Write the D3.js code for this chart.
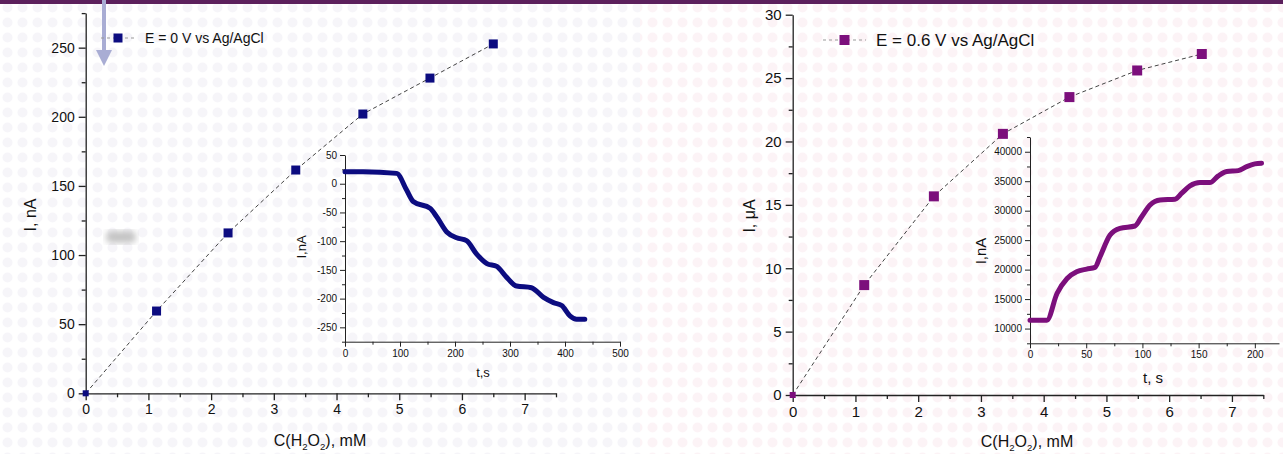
<!DOCTYPE html>
<html>
<head>
<meta charset="utf-8">
<script src="https://cdn.jsdelivr.net/npm/d3@7"></script>
<style>
  html, body { margin: 0; padding: 0; background: #fff; }
  svg { display: block; font-family: Arial, "Liberation Sans", sans-serif; }
  .axis path, .axis line { stroke: #222; }
  .axis text { fill: #111; }
</style>
</head>
<body>
<div id="chart"></div>
<script>
(function(d3) {
  'use strict';

  // main chart, E = 0 V
  var conc0 = [0, 1.13, 2.27, 3.35, 4.42, 5.49, 6.5];
  var curr0 = [0, 59.5, 116, 161.5, 202, 228, 252.7];

  // inset, E = 0 V (t, s / I, nA)
  var t0 = [0, 33, 94, 112, 124, 155, 167, 185, 203, 221, 239, 258, 276, 294, 312, 339, 361, 379, 394, 409, 421, 436];
  var i0 = [21, 21, 18, -11, -31, -43, -58, -84, -94, -99, -122, -139, -144, -163, -178, -181, -198, -207, -212, -230, -236, -236];

  // main chart, E = 0.6 V
  var conc6 = [0, 1.14, 2.25, 3.35, 4.41, 5.49, 6.52];
  var curr6 = [0, 8.67, 15.67, 20.6, 23.5, 25.6, 26.9];

  // inset, E = 0.6 V (t, s / I, nA)
  var t6 = [0, 15, 24, 33, 41.5, 50.4, 57.8, 62.3, 71.2, 80, 93.4, 99.3, 106.8, 115.7, 129, 135, 142.3, 151.2, 160, 167.5, 175, 185.3, 192.8, 200, 206];
  var i6 = [11400, 11400, 15950, 18500, 19630, 20090, 20370, 22180, 25870, 27000, 27400, 28980, 30970, 31820, 31940, 32960, 34200, 34760, 34760, 35900, 36640, 36800, 37480, 37940, 38060];

  var width = 1283, height = 454;

  var svg = d3.select('#chart').append('svg')
    .attr('width', width).attr('height', height);

  var defs = svg.append('defs');
  var patL = defs.append('pattern').attr('id', 'dotsL')
    .attr('width', 15).attr('height', 15).attr('patternUnits', 'userSpaceOnUse');
  patL.append('circle').attr('cx', 7.5).attr('cy', 7.5).attr('r', 5).attr('fill', '#f6f5f9');
  var patR = defs.append('pattern').attr('id', 'dotsR')
    .attr('width', 15).attr('height', 15).attr('patternUnits', 'userSpaceOnUse');
  patR.append('circle').attr('cx', 7.5).attr('cy', 7.5).attr('r', 5).attr('fill', '#fcf3f6');
  defs.append('filter').attr('id', 'blur')
    .append('feGaussianBlur').attr('stdDeviation', 3);

  svg.append('rect').attr('width', 640).attr('height', height).attr('fill', 'url(#dotsL)');
  svg.append('rect').attr('x', 640).attr('width', 643).attr('height', height).attr('fill', 'url(#dotsR)');

  // top bar
  svg.append('rect').attr('width', width).attr('height', 4).attr('fill', '#5b1f5c');

  // blurred smudge and arrow in the original slide
  svg.append('rect').attr('x', 106).attr('y', 231).attr('width', 30).attr('height', 12)
    .attr('rx', 5).attr('fill', '#c4c4c4').attr('filter', 'url(#blur)');
  svg.append('line').attr('x1', 104).attr('x2', 104).attr('y1', 0).attr('y2', 52)
    .attr('stroke', '#a9add4').attr('stroke-width', 4);
  svg.append('path').attr('d', 'M96,50 L112,50 L104,66 Z').attr('fill', '#a9add4');

  function zip(a, b) { return a.map(function(v, k) { return [v, b[k]]; }); }
  var plain = function(d) { return String(d); };

  function drawAxes(g, x, y, opt) {
    // minor ticks first
    g.append('g').attr('class', 'axis')
      .attr('transform', 'translate(0,' + y.range()[0] + ')')
      .call(d3.axisBottom(x).tickValues(opt.xMinor).tickSize(opt.minor).tickFormat(''))
      .select('.domain').remove();
    g.append('g').attr('class', 'axis')
      .attr('transform', 'translate(' + x.range()[0] + ',0)')
      .call(d3.axisLeft(y).tickValues(opt.yMinor).tickSize(opt.minor).tickFormat(''))
      .select('.domain').remove();

    var xa = g.append('g').attr('class', 'axis')
      .attr('transform', 'translate(0,' + y.range()[0] + ')')
      .call(d3.axisBottom(x).tickValues(opt.xTicks).tickFormat(plain)
        .tickSize(opt.major).tickSizeOuter(0).tickPadding(opt.pad));
    var ya = g.append('g').attr('class', 'axis')
      .attr('transform', 'translate(' + x.range()[0] + ',0)')
      .call(d3.axisLeft(y).tickValues(opt.yTicks).tickFormat(plain)
        .tickSize(opt.major).tickSizeOuter(0).tickPadding(opt.pad));
    [xa, ya].forEach(function(a) {
      a.selectAll('text').style('font-size', opt.font + 'px');
      a.select('.domain').attr('stroke-width', opt.sw);
    });
    g.selectAll('.axis line').attr('stroke-width', opt.sw);
  }

  function xTitle(g, cx, y, size) {
    var t = g.append('text').attr('x', cx).attr('y', y)
      .attr('text-anchor', 'middle').style('font-size', size + 'px').attr('fill', '#111');
    t.append('tspan').text('C(H');
    t.append('tspan').text('2').attr('dy', 4).style('font-size', (size * 0.6) + 'px');
    t.append('tspan').text('O').attr('dy', -4);
    t.append('tspan').text('2').attr('dy', 4).style('font-size', (size * 0.6) + 'px');
    t.append('tspan').text('), mM').attr('dy', -4);
  }

  function yTitle(g, x, cy, size, txt) {
    g.append('text').attr('transform', 'translate(' + x + ',' + cy + ') rotate(-90)')
      .attr('text-anchor', 'middle').attr('dy', '0.35em')
      .style('font-size', size + 'px').attr('fill', '#111').text(txt);
  }

  function mainPlot(opt) {
    var g = svg.append('g');
    var x = d3.scaleLinear().domain([0, 7.5]).range(opt.xr);
    var y = d3.scaleLinear().domain(opt.yd).range(opt.yr);

    drawAxes(g, x, y, {
      xTicks: d3.range(0, 8, 1), xMinor: d3.range(0.5, 7.6, 1),
      yTicks: opt.yTicks, yMinor: opt.yMinor,
      major: 7, minor: 4, pad: 4, font: opt.font, sw: 1.3
    });

    var line = d3.line().x(function(d) { return x(d[0]); }).y(function(d) { return y(d[1]); });
    var pts = zip(opt.xs, opt.ys);
    g.append('path').datum(pts).attr('d', line)
      .attr('fill', 'none').attr('stroke', '#444').attr('stroke-width', 1)
      .attr('stroke-dasharray', '4,3');
    g.selectAll('rect.pt').data(pts).enter().append('rect')
      .attr('class', 'pt')
      .attr('x', function(d, k) { return x(d[0]) - (k === 0 ? 3 : opt.ms / 2); })
      .attr('y', function(d, k) { return y(d[1]) - (k === 0 ? 3 : opt.ms / 2); })
      .attr('width', function(d, k) { return k === 0 ? 6 : opt.ms; })
      .attr('height', function(d, k) { return k === 0 ? 6 : opt.ms; })
      .attr('fill', opt.color);

    // legend
    var lg = g.append('g').attr('transform', 'translate(' + opt.leg[0] + ',' + opt.leg[1] + ')');
    lg.append('line').attr('x1', 0).attr('x2', opt.legW).attr('y1', 0).attr('y2', 0)
      .attr('stroke', '#999').attr('stroke-width', 1).attr('stroke-dasharray', '3,3');
    lg.append('rect').attr('x', opt.legW / 2 - opt.ms / 2).attr('y', -opt.ms / 2)
      .attr('width', opt.ms).attr('height', opt.ms).attr('fill', opt.color);
    lg.append('text').attr('x', opt.legW + 10).attr('dy', '0.35em')
      .style('font-size', opt.legFont + 'px').attr('fill', '#111').text(opt.label);

    xTitle(g, opt.xTitle[0], opt.xTitle[1], 16);
    yTitle(g, opt.yTitle[0], opt.yTitle[1], 16, opt.yLabel);
    return g;
  }

  function insetPlot(opt) {
    var g = svg.append('g');
    var x = d3.scaleLinear().domain(opt.xd).range(opt.xr);
    var y = d3.scaleLinear().domain(opt.yd).range(opt.yr);
    drawAxes(g, x, y, {
      xTicks: opt.xTicks, xMinor: opt.xMinor, yTicks: opt.yTicks, yMinor: opt.yMinor,
      major: 5, minor: 3, pad: 3, font: 10, sw: 1
    });
    var line = d3.line().curve(d3.curveMonotoneX)
      .x(function(d) { return x(d[0]); }).y(function(d) { return y(d[1]); });
    g.append('path').datum(zip(opt.xs, opt.ys)).attr('d', line)
      .attr('fill', 'none').attr('stroke', opt.color).attr('stroke-width', 5)
      .attr('stroke-linejoin', 'round').attr('stroke-linecap', 'round');
    g.append('text').attr('x', opt.xTitle[0]).attr('y', opt.xTitle[1])
      .attr('text-anchor', 'middle').style('font-size', opt.tFont + 'px')
      .attr('fill', '#111').text(opt.xLabel);
    yTitle(g, opt.yTitle[0], opt.yTitle[1], opt.tFont, 'I,nA');
  }

  mainPlot({
    xr: [85.7, 556], yd: [0, 275], yr: [393.3, 13.1],
    yTicks: d3.range(0, 251, 50), yMinor: d3.range(25, 276, 50),
    xs: conc0, ys: curr0, color: '#0c0c80', ms: 9, font: 14,
    leg: [101, 38], legW: 34, legFont: 14, label: 'E = 0 V vs Ag/AgCl',
    xTitle: [320, 446], yTitle: [30, 215], yLabel: 'I, nA'
  });

  insetPlot({
    xd: [0, 500], xr: [345, 620], yd: [-275, 50], yr: [341.7, 155],
    xTicks: d3.range(0, 501, 100), xMinor: d3.range(50, 451, 100),
    yTicks: d3.range(-250, 51, 50), yMinor: d3.range(-275, 26, 50),
    xs: t0, ys: i0, color: '#0c0c80',
    xTitle: [483, 377], xLabel: 't,s', yTitle: [301, 247], tFont: 13
  });

  mainPlot({
    xr: [792.7, 1263.3], yd: [0, 30], yr: [395, 14.7],
    yTicks: d3.range(0, 31, 5), yMinor: d3.range(2.5, 28, 5),
    xs: conc6, ys: curr6, color: '#7c0f7c', ms: 10, font: 15,
    leg: [823, 40], legW: 43, legFont: 17, label: 'E = 0.6 V vs Ag/AgCl',
    xTitle: [1027, 447], yTitle: [749, 216], yLabel: 'I, \u03bcA'
  });

  insetPlot({
    xd: [0, 221.5], xr: [1030, 1279], yd: [7500, 42500], yr: [343.3, 137],
    xTicks: d3.range(0, 201, 50), xMinor: d3.range(25, 221, 50),
    yTicks: d3.range(10000, 40001, 5000), yMinor: d3.range(7500, 42501, 5000),
    xs: t6, ys: i6, color: '#7c0f7c',
    xTitle: [1153, 383], xLabel: 't, s', yTitle: [981, 251], tFont: 15
  });

})(window.d3);
</script>
</body>
</html>
